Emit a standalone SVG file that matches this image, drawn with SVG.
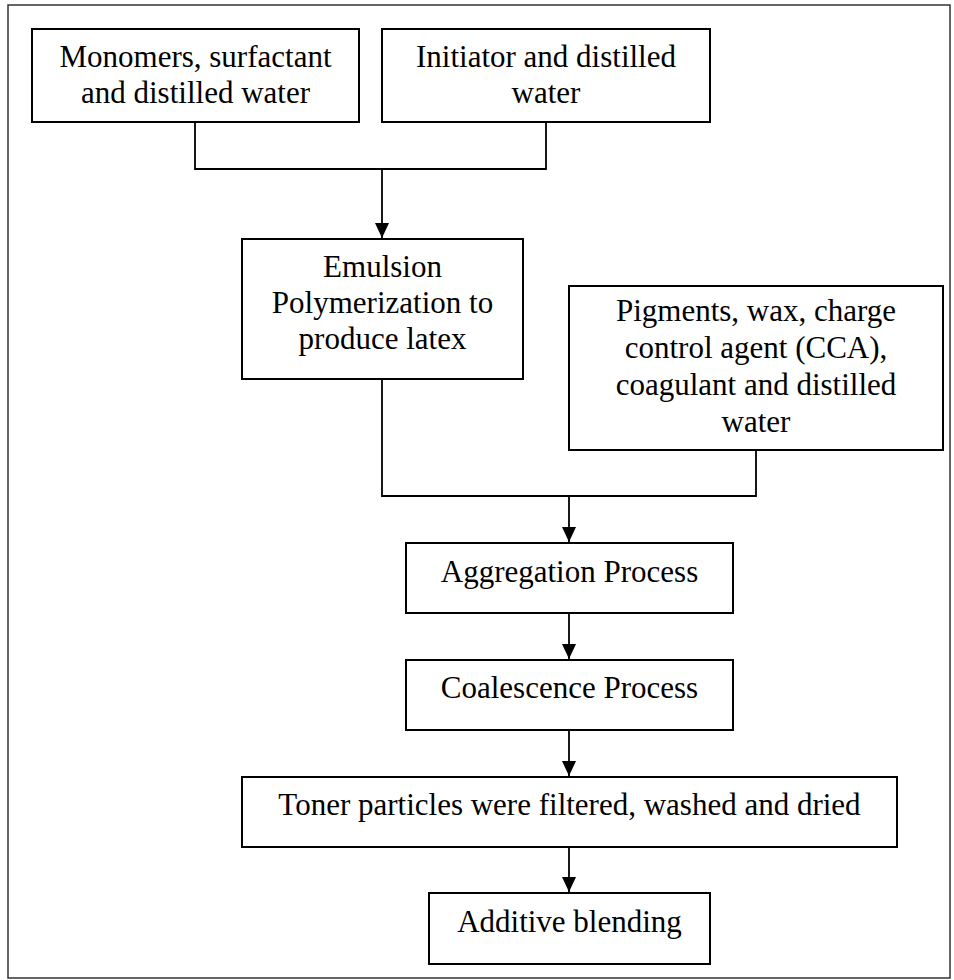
<svg xmlns="http://www.w3.org/2000/svg" width="954" height="980" viewBox="0 0 954 980">
  <defs>
    <marker id="arrow" viewBox="0 0 15 14" refX="15" refY="7" markerWidth="15" markerHeight="14" markerUnits="userSpaceOnUse" orient="auto">
      <path d="M0,0 L15,7 L0,14 Z" fill="#000"/>
    </marker>
    <style>
      .box { fill: #fff; stroke: #000; stroke-width: 2; }
      .frame { fill: none; stroke: #333; stroke-width: 1.5; }
      .wire { fill: none; stroke: #000; stroke-width: 1.8; }
      .arr { fill: none; stroke: #000; stroke-width: 1.8; }
      text { font-family: "Liberation Serif", "Times New Roman", serif; font-size: 31px; fill: #000; text-anchor: middle; }
    </style>
  </defs>

  <rect width="954" height="980" fill="#fff"/>
  <rect class="frame" x="8" y="5" width="942" height="973"/>

  <!-- connectors -->
  <g id="connectors">
    <polyline class="wire" points="195,122 195,169 546,169 546,122"/>
    <line class="arr" x1="382" y1="169" x2="382" y2="238" marker-end="url(#arrow)"/>
    <polyline class="wire" points="382,379 382,496 756,496 756,450"/>
    <line class="arr" x1="569" y1="496" x2="569" y2="542" marker-end="url(#arrow)"/>
    <line class="arr" x1="569" y1="613" x2="569" y2="659" marker-end="url(#arrow)"/>
    <line class="arr" x1="569" y1="730" x2="569" y2="776" marker-end="url(#arrow)"/>
    <line class="arr" x1="569" y1="847" x2="569" y2="892" marker-end="url(#arrow)"/>
  </g>

  <g id="monomers">
    <rect class="box" x="32" y="29" width="327" height="93"/>
    <text x="195.5" y="67">Monomers, surfactant</text>
    <text x="195.5" y="103">and distilled water</text>
  </g>

  <g id="initiator">
    <rect class="box" x="382" y="29" width="328" height="93"/>
    <text x="546" y="67">Initiator and distilled</text>
    <text x="546" y="103">water</text>
  </g>

  <g id="emulsion">
    <rect class="box" x="242" y="239" width="281" height="140"/>
    <text x="382.5" y="277">Emulsion</text>
    <text x="382.5" y="313">Polymerization to</text>
    <text x="382.5" y="349">produce latex</text>
  </g>

  <g id="pigments">
    <rect class="box" x="569" y="286" width="374" height="164"/>
    <text x="756" y="321">Pigments, wax, charge</text>
    <text x="756" y="358">control agent (CCA),</text>
    <text x="756" y="395">coagulant and distilled</text>
    <text x="756" y="432">water</text>
  </g>

  <g id="aggregation">
    <rect class="box" x="406" y="543" width="327" height="70"/>
    <text x="569.5" y="582">Aggregation Process</text>
  </g>

  <g id="coalescence">
    <rect class="box" x="406" y="660" width="327" height="70"/>
    <text x="569.5" y="698">Coalescence Process</text>
  </g>

  <g id="toner">
    <rect class="box" x="242" y="777" width="655" height="70"/>
    <text x="569.5" y="815">Toner particles were filtered, washed and dried</text>
  </g>

  <g id="additive">
    <rect class="box" x="429" y="893" width="281" height="71"/>
    <text x="569.5" y="932">Additive blending</text>
  </g>
</svg>
